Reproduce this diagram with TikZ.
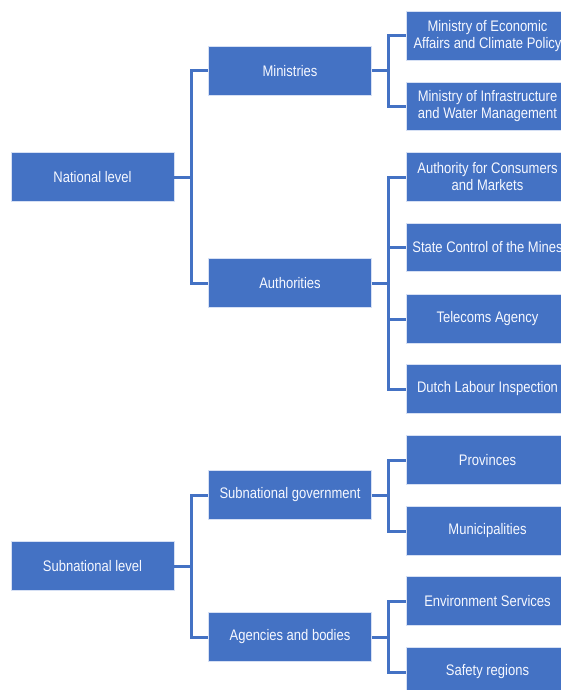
\documentclass[tikz,border=0pt]{standalone}
\usepackage{fontspec}
\setmainfont{Liberation Sans}[FakeStretch=0.85]
\definecolor{boxblue}{HTML}{4472C4}
\definecolor{edgelight}{RGB}{214,224,244}
\definecolor{txt}{RGB}{246,248,255}
\begin{document}
\begin{tikzpicture}[x=1pt,y=-1pt,
  orgbox/.style={rectangle, fill=boxblue, draw=edgelight, line width=0.8pt,
    minimum width=163pt, minimum height=48.5pt, inner sep=1pt, align=center,
    text=txt, font=\fontsize{15.3}{17}\selectfont},
  link/.style={draw=boxblue, line width=3pt, line join=miter}]
\useasboundingbox (0,0) rectangle (561,690);
\clip (0,0) rectangle (561,690);
% level 1
\node[orgbox] (nat) at (92.5,177) {National level};
\node[orgbox] (sub) at (92.5,566) {Subnational level};
% level 2
\node[orgbox] (min) at (290,71) {Ministries};
\node[orgbox] (aut) at (290,283) {Authorities};
\node[orgbox] (sgov) at (290,495) {Subnational government};
\node[orgbox] (agen) at (290,637) {Agencies and bodies};
% level 3
\node[orgbox] (meacp) at (487.5,36) {Ministry of Economic\\Affairs and Climate Policy};
\node[orgbox] (miwm) at (487.5,106.5) {Ministry of Infrastructure\\and Water Management};
\node[orgbox] (acm) at (487.5,177) {Authority for Consumers\\and Markets};
\node[orgbox] (scm) at (487.5,247.5) {State Control of the Mines};
\node[orgbox] (tel) at (487.5,319) {Telecoms Agency};
\node[orgbox] (dli) at (487.5,389) {Dutch Labour Inspection};
\node[orgbox] (prov) at (487.5,460) {Provinces};
\node[orgbox] (mun) at (487.5,531) {Municipalities};
\node[orgbox] (env) at (487.5,601) {Environment Services};
\node[orgbox] (saf) at (487.5,672) {Safety regions};
% connectors
\foreach \p/\c in {nat/min, nat/aut, sub/sgov, sub/agen,
  min/meacp, min/miwm,
  aut/acm, aut/scm, aut/tel, aut/dli,
  sgov/prov, sgov/mun,
  agen/env, agen/saf}{
  \draw[link] (\p.east) -- ++(17,0) |- (\c.west);
}
\end{tikzpicture}
\end{document}
